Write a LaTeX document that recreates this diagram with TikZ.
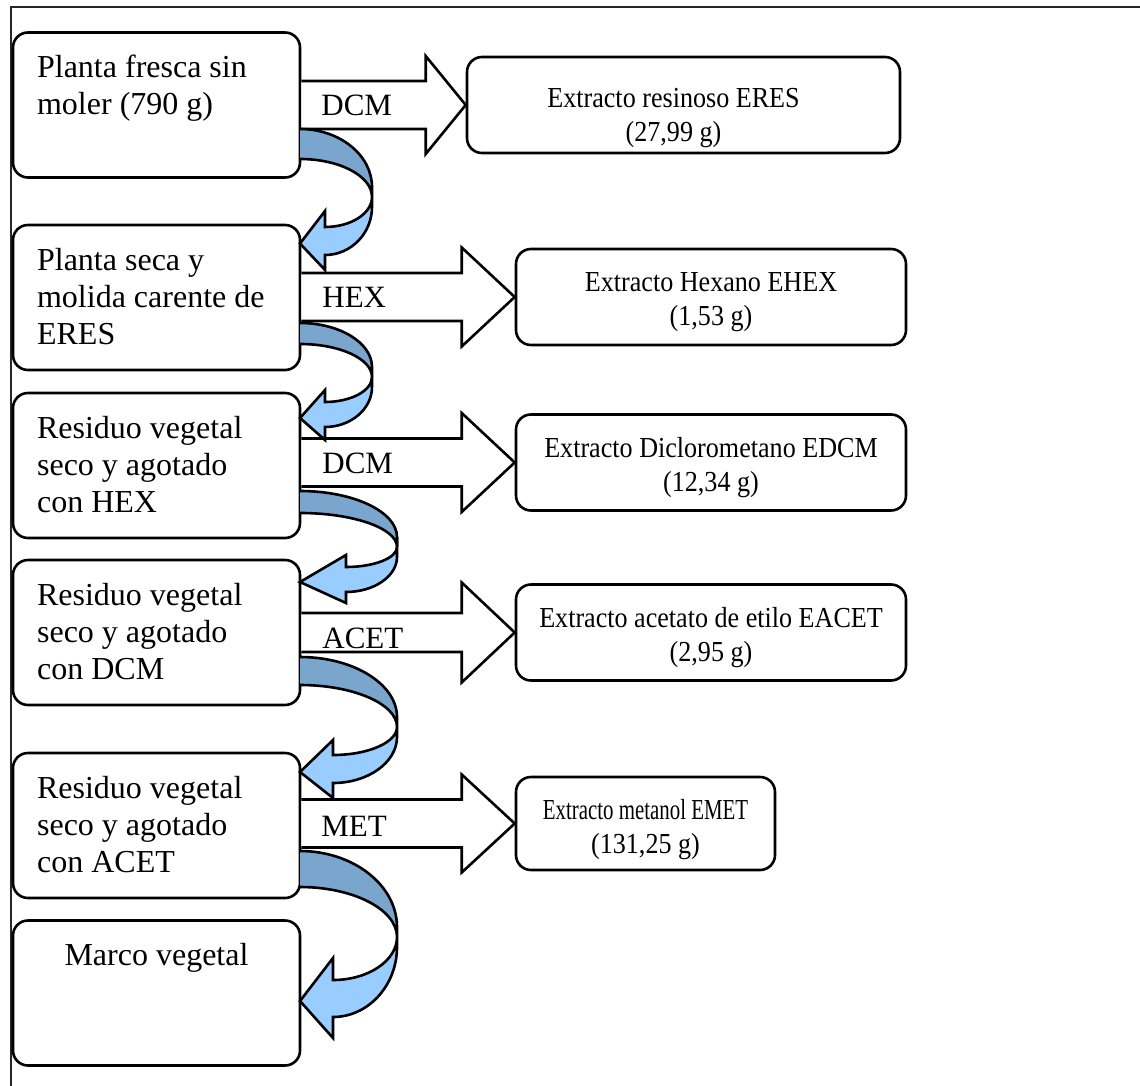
\documentclass[tikz,border=0pt]{standalone}
\usepackage{fontspec}
\setmainfont{Liberation Serif}
\newfontfamily\rfont[FakeStretch=0.9]{Liberation Serif}
\newfontfamily\rnarrowfont[FakeStretch=0.72]{Liberation Serif}
\usetikzlibrary{calc}
\definecolor{darkband}{RGB}{122,165,205}
\definecolor{lightband}{RGB}{153,204,255}
\newcommand\blockarr[5]{%
  \draw[barrow] let \p1=(#1.east), \p2=(#2.west) in
   (\x1,\y2+#3) -- (\x2-#5,\y2+#3) -- (\x2-#5,\y2+#4) -- (\x2,\y2)
   -- (\x2-#5,\y2-#4) -- (\x2-#5,\y2-#3) -- (\x1,\y2-#3);
}
\newcommand\curvarr[9]{%
  \pgfmathsetmacro\cxa{300+0.55*(#3-300)}%
  \pgfmathsetmacro\cya{#4-10-0.55*(#4-10-#1)}%
  \pgfmathsetmacro\cyb{#4-0.55*(#4-#2)}%
  \pgfmathsetmacro\cxc{#5+0.55*(#3-#5)}%
  \pgfmathsetmacro\cyc{#4+0.55*(#7-#4)}%
  \pgfmathsetmacro\cyd{#4+10+0.55*(#8-#4-10)}%
  \pgfmathsetmacro\tyy{(#6+#9)/2+3}%
  \draw[band, fill=darkband] (300,#1) .. controls (\cxa,#1) and (#3,\cya) .. (#3,#4-10)
     -- (#3,#4) .. controls (#3,\cyb) and (\cxa,#2) .. (300,#2);
  \draw[band, fill=lightband] (#3,#4) .. controls (#3,\cyc) and (\cxc,#7) .. (#5,#7)
     -- (#5,#6) -- (300,\tyy) -- (#5,#9) -- (#5,#8)
     .. controls (\cxc,#8) and (#3,\cyd) .. (#3,#4+10) -- cycle;
}
\begin{document}
\begin{tikzpicture}[x=0.5pt,y=-0.5pt,
  lbox/.style={draw, line width=1.3pt, rounded corners=7.5pt, minimum width=143.5pt,
    minimum height=72.5pt, inner sep=0pt, fill=white},
  rbox/.style={draw, line width=1.3pt, rounded corners=7.5pt, inner sep=0pt, fill=white,
    minimum height=48pt},
  ltxt/.style={font=\fontsize{16}{18.5}\selectfont, inner sep=0pt},
  rtxt/.style={font=\rfont\fontsize{14.5}{17}\selectfont, inner sep=0pt, align=center, anchor=north},
  lbl/.style={font=\fontsize{15.5}{18}\selectfont, inner sep=0pt, anchor=base west},
  barrow/.style={draw, line width=1.3pt, fill=white},
  band/.style={draw, line width=1.3pt}
]
\useasboundingbox (0,0) rectangle (1140,1086);
\draw[line width=1.1pt, black!85] (11,1086) -- (11,7) -- (1140,7);

% left boxes
\node[lbox] (L1) at (156.5,105) {};
\node[lbox] (L2) at (156.5,297.5) {};
\node[lbox] (L3) at (156.5,465.5) {};
\node[lbox] (L4) at (156.5,632.5) {};
\node[lbox] (L5) at (156.5,825.5) {};
\node[lbox] (L6) at (156.5,993) {};

\node[ltxt, anchor=north west, align=left] (T1) at ($(L1.north west)+(25,20)$) {\strut Planta fresca sin\\moler (790 g)};
\node[ltxt, anchor=north west, align=left] (T2) at ($(L2.north west)+(25,20)$) {\strut Planta seca y\\molida carente de\\ERES};
\node[ltxt, anchor=north west, align=left] (T3) at ($(L3.north west)+(25,20)$) {\strut Residuo vegetal\\seco y agotado\\con HEX};
\node[ltxt, anchor=north west, align=left] (T4) at ($(L4.north west)+(25,20)$) {\strut Residuo vegetal\\seco y agotado\\con DCM};
\node[ltxt, anchor=north west, align=left] (T5) at ($(L5.north west)+(25,20)$) {\strut Residuo vegetal\\seco y agotado\\con ACET};
\node[ltxt, anchor=north] (T6) at ($(L6.north)+(0,20)$) {\strut Marco vegetal};

% right boxes
\node[rbox, minimum width=216.5pt] (R1) at (683.5,105) {};
\node[rbox, minimum width=195pt] (R2) at (711,297) {};
\node[rbox, minimum width=195pt] (R3) at (711,462.5) {};
\node[rbox, minimum width=195pt] (R4) at (711,632.5) {};
\node[rbox, minimum width=129.5pt, minimum height=46.5pt] (R5) at (645.5,823.5) {};

\node[rtxt] (S1) at ($(R1.north)+(-10,28)$) {\strut Extracto resinoso ERES\\(27,99 g)};
\node[rtxt] (S2) at ($(R2.north)+(0,20)$) {\strut Extracto Hexano EHEX\\(1,53 g)};
\node[rtxt] (S3) at ($(R3.north)+(0,20)$) {\strut Extracto Diclorometano EDCM\\(12,34 g)};
\node[rtxt] (S4) at ($(R4.north)+(0,20)$) {\strut Extracto acetato de etilo EACET\\(2,95 g)};
\node[rtxt] (S5) at ($(R5.north)+(0,20)$) {\strut{\rnarrowfont Extracto metanol EMET}\\(131,25 g)};

% block arrows
\blockarr{L1}{R1}{12pt}{24.5pt}{20pt}
\blockarr{L2}{R2}{12pt}{24.75pt}{26.5pt}
\blockarr{L3}{R3}{12pt}{24.75pt}{26.5pt}
\blockarr{L4}{R4}{9.75pt}{25pt}{26.5pt}
\blockarr{L5}{R5}{12pt}{24.5pt}{26.5pt}

\node[lbl] (D1) at (321,115.5) {DCM};
\node[lbl] (D2) at (322,307.5) {HEX};
\node[lbl] (D3) at (322,473.5) {DCM};
\node[lbl] (D4) at (322,648) {ACET};
\node[lbl] (D5) at (321,836) {MET};

% curved arrows
\curvarr{129}{159}{372}{197}{325}{211}{227}{255}{270}
\curvarr{323}{344}{372}{377}{325}{390}{402}{427}{440}
\curvarr{491}{513}{397}{547}{346}{555}{567}{592}{603}
\curvarr{657}{685}{397}{727}{333}{740}{755}{783}{798}
\curvarr{851}{887}{397}{937}{333}{958}{980}{1017}{1038}
\end{tikzpicture}
\end{document}
